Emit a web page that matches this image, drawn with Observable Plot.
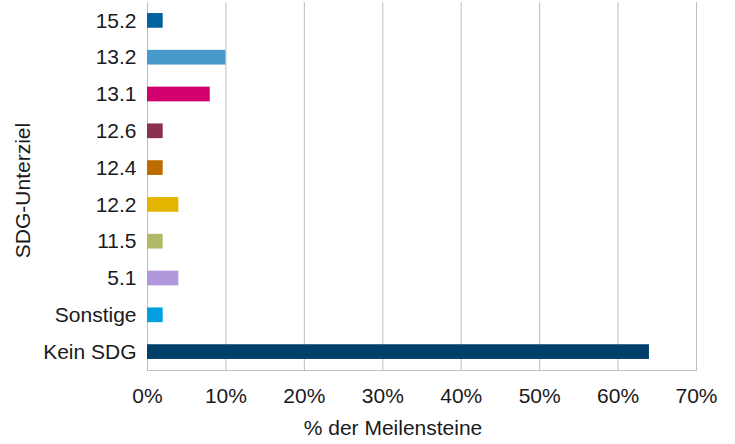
<!DOCTYPE html>
<html>
<head>
<meta charset="utf-8">
<script src="https://cdn.jsdelivr.net/npm/d3@7"></script>
<script src="https://cdn.jsdelivr.net/npm/@observablehq/plot@0.6"></script>
<style>
  body { margin: 0; background: #fff; }
  #chart svg { font-family: "Liberation Sans", Arial, sans-serif; }
</style>
</head>
<body>
<div id="chart"></div>
<script>
const categories = ["15.2", "13.2", "13.1", "12.6", "12.4", "12.2", "11.5", "5.1", "Sonstige", "Kein SDG"];
const values = [2, 10, 8, 2, 2, 4, 2, 4, 2, 64];
const colors = ["#00629f", "#4899cc", "#d1006e", "#8a3050", "#bd6c00", "#e3b500", "#b0b968", "#b198dc", "#00a0e0", "#003f6a"];
const xTicks = [0, 10, 20, 30, 40, 50, 60, 70];
const xTitle = "% der Meilensteine";
const yTitle = "SDG-Unterziel";

const data = categories.map((c, i) => ({cat: c, value: values[i], color: colors[i]}));

const chart = Plot.plot({
  width: 735,
  height: 444,
  marginLeft: 147,
  marginRight: 39,
  marginTop: 2,
  marginBottom: 74,
  style: {fontFamily: "'Liberation Sans', Arial, sans-serif", fontSize: "21px", color: "#1a1a1a", background: "#fff", overflow: "visible"},
  x: {domain: [0, 70], ticks: xTicks, round: false},
  y: {domain: categories, paddingInner: 0.6, paddingOuter: 0.3, round: false},
  marks: [
    Plot.gridX(xTicks, {stroke: "#bfbfbf", strokeOpacity: 1, strokeWidth: 1}),
    Plot.frame({anchor: "bottom", stroke: "#bfbfbf", strokeWidth: 1}),
    Plot.barX(data, {x: "value", y: "cat", fill: "color"}),
    Plot.axisX(xTicks, {tickSize: 0, tickPadding: 18, tickFormat: d => d + "%", fontSize: 21, label: null}),
    Plot.axisY({tickSize: 0, tickPadding: 11, fontSize: 21, label: null}),
    Plot.text([xTitle], {text: d => d, frameAnchor: "bottom", dx: -29, dy: 64.5, fontSize: 21, fill: "#1a1a1a"}),
    Plot.text([yTitle], {text: d => d, frameAnchor: "left", textAnchor: "middle", rotate: -90, dx: -124.5, dy: 4, fontSize: 21, fill: "#1a1a1a"})
  ]
});
document.getElementById("chart").appendChild(chart);
</script>
</body>
</html>
